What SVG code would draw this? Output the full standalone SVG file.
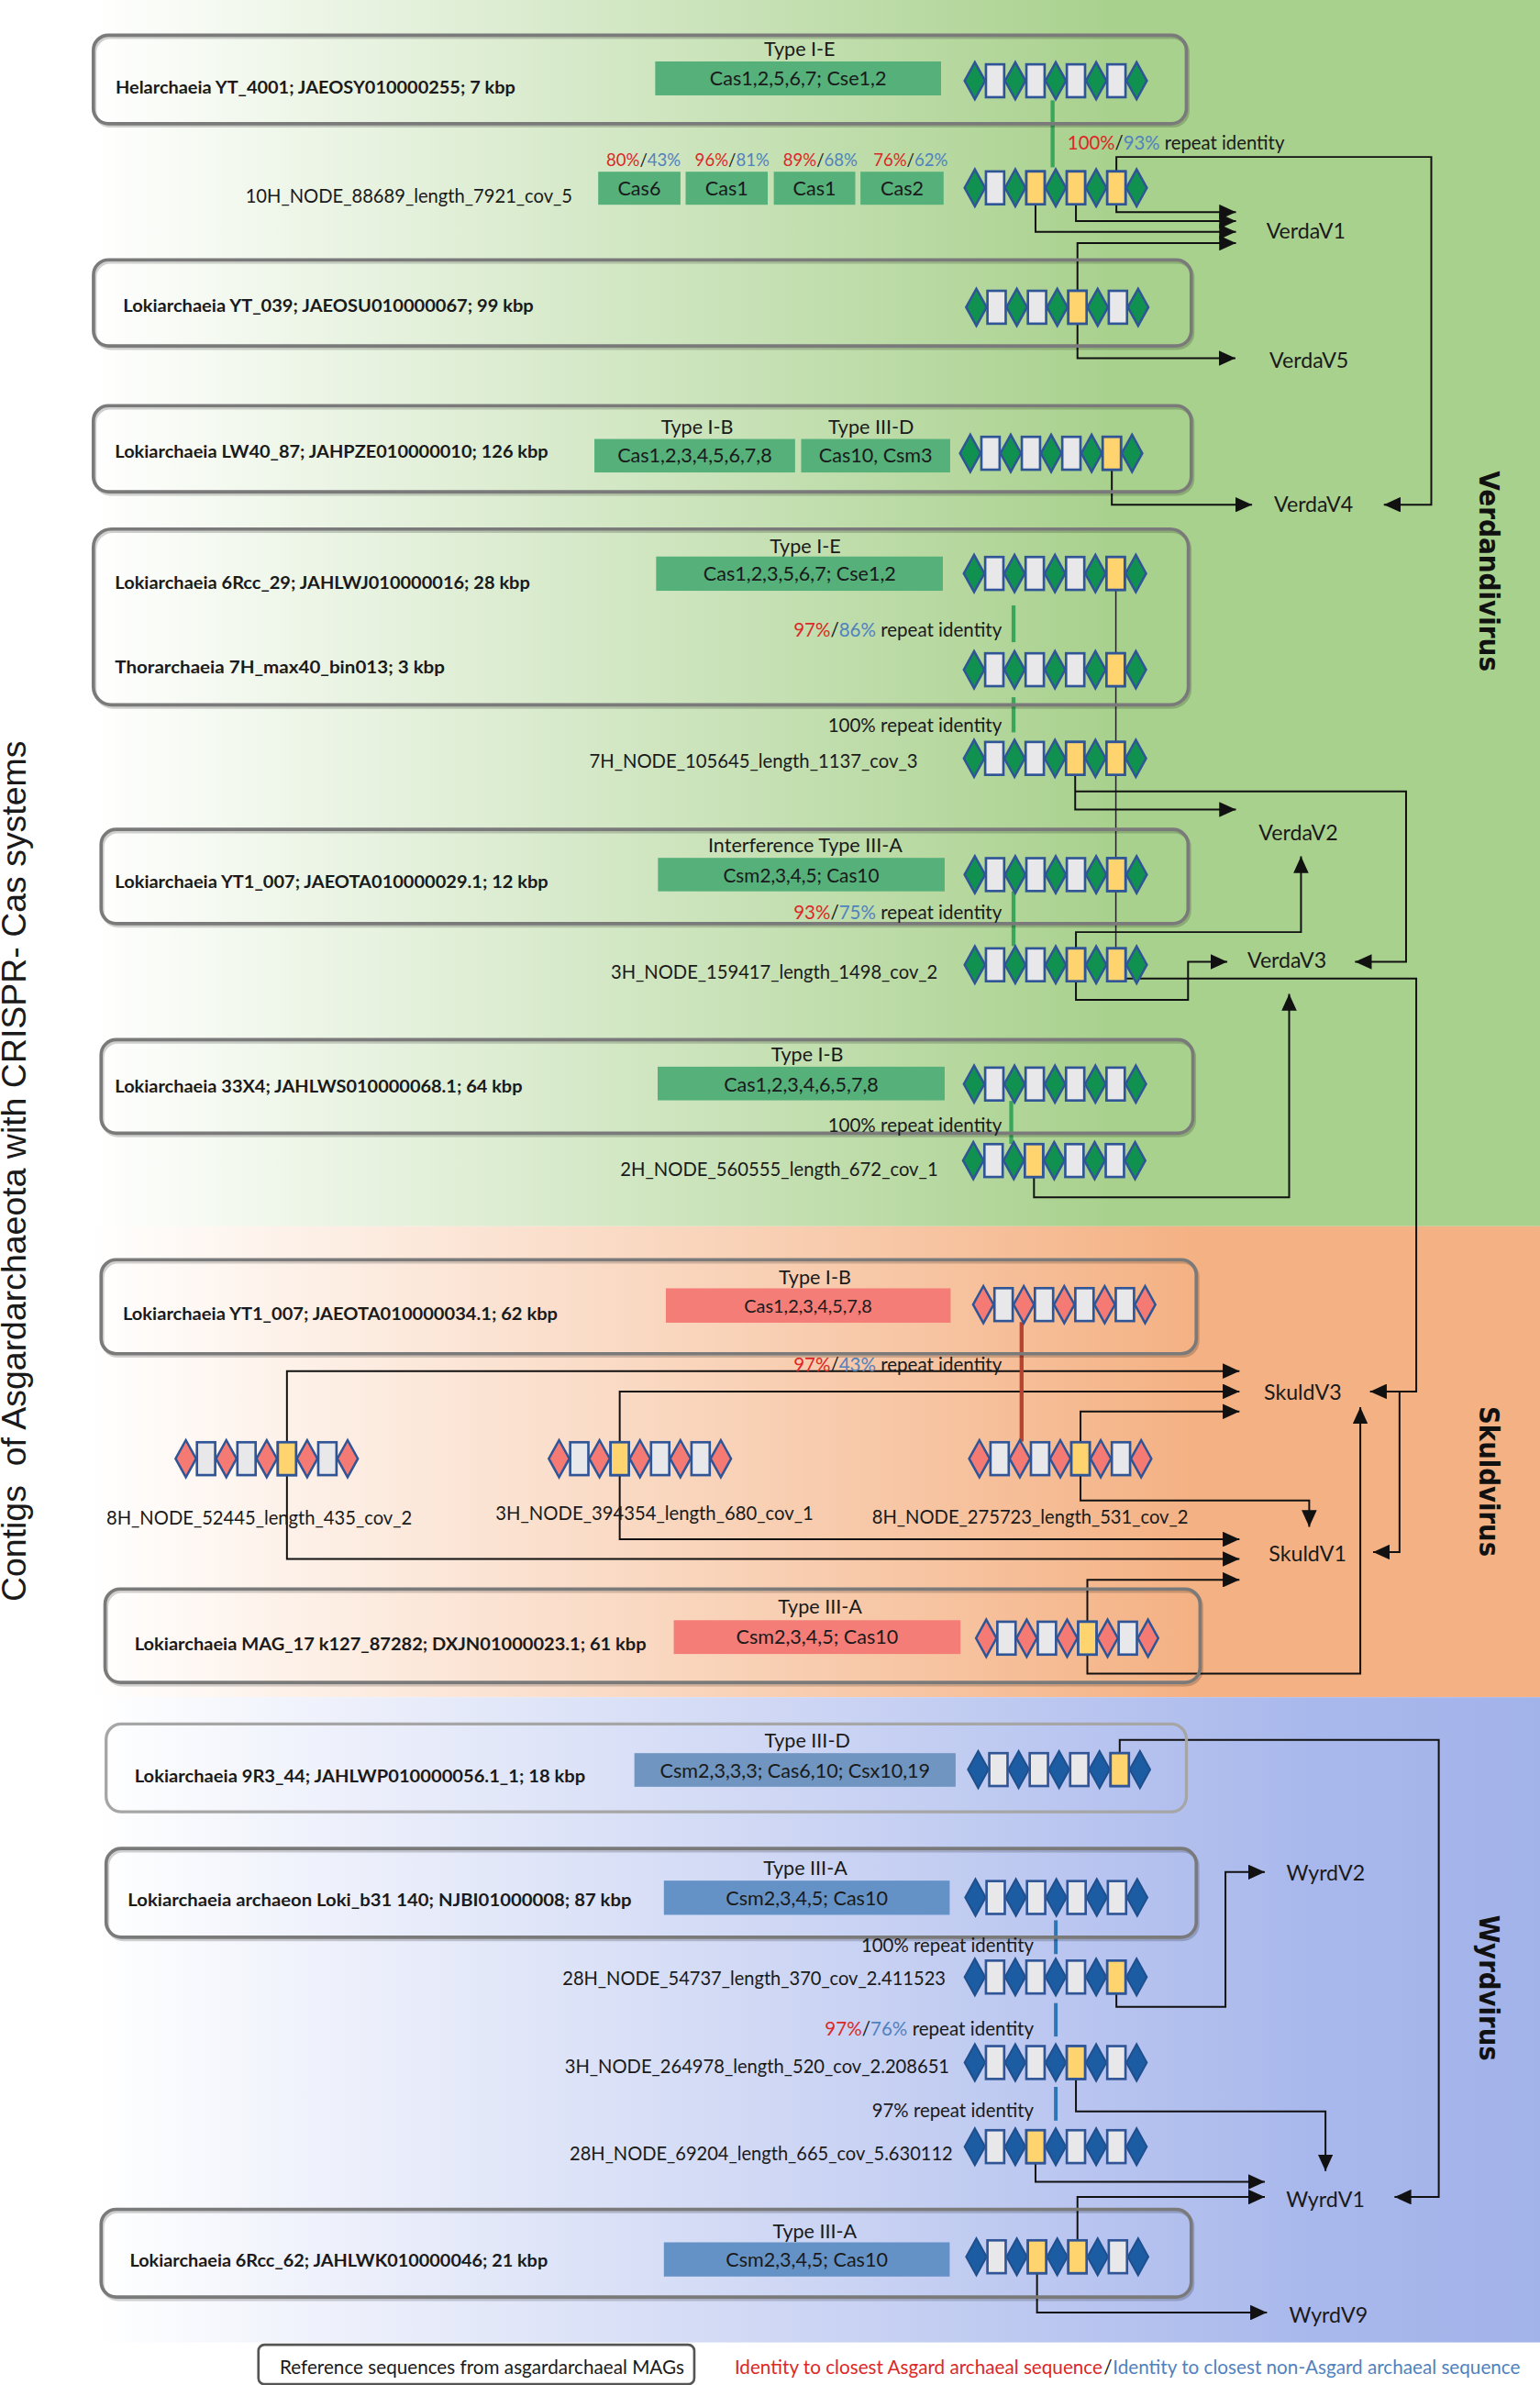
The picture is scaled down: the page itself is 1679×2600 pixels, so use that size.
<svg xmlns="http://www.w3.org/2000/svg" xmlns:xlink="http://www.w3.org/1999/xlink" width="1679" height="2600" viewBox="0 0 1679 2600">
<style>
text{font-family:Lato,"Liberation Sans",sans-serif;fill:#1a1a1a}
.lb{font-size:12px;font-weight:bold}
.nd{font-size:13px}
.ty{font-size:13px;text-anchor:middle}
.cs{font-size:13px;text-anchor:middle}
.vl{font-size:14px}
.ri{font-size:12.5px}
.pc{font-size:12px;text-anchor:middle}
.rd{fill:#dc2828}
.bl{fill:#5082be}
.box{fill:none;stroke:#7a7a7a;stroke-width:2.2}
.box2{fill:none;stroke:#a6a6a6;stroke-width:2}
.sh{fill:none;stroke:#000;stroke-opacity:0.18;stroke-width:2.2}
.cg{fill:#55b07a}
.cr{fill:#f47d78}
.cb{fill:#6592c6}
.cb2{fill:#6f95c0}
.g{fill:#119150;stroke:#2f5597;stroke-width:1.5}
.s{fill:#f47a73;stroke:#2f5597;stroke-width:1.5}
.b{fill:#1c5ca3;stroke:#1f4f8c;stroke-width:1.2}
.r{fill:#e8e8ea;stroke:#2f5597;stroke-width:1.6}
.ry{fill:#ffd46f;stroke:#2f5597;stroke-width:1.6}
.lna{fill:none;stroke:#111;stroke-width:1.2;marker-end:url(#ah)}
.thin{fill:none;stroke:#222;stroke-width:0.9}
.gl{stroke:#3aa65a;stroke-width:2.6}
.rl{stroke:#b5432f;stroke-width:2.6}
.bll{stroke:#2e75b6;stroke-width:2.4}
.big{font-family:"DejaVu Sans",sans-serif;font-weight:bold;font-size:18px;text-anchor:middle;fill:#111}
</style>
<defs>
<linearGradient id="gG" x1="0" y1="0" x2="1" y2="0"><stop offset="0" stop-color="#ffffff"/><stop offset="0.06" stop-color="#ffffff"/><stop offset="0.72" stop-color="#a9d18e"/><stop offset="1" stop-color="#a9d18e"/></linearGradient>
<linearGradient id="gO" x1="0" y1="0" x2="1" y2="0"><stop offset="0" stop-color="#ffffff"/><stop offset="0.06" stop-color="#ffffff"/><stop offset="0.78" stop-color="#f4b183"/><stop offset="1" stop-color="#f4b183"/></linearGradient>
<linearGradient id="gB" x1="0" y1="0" x2="1" y2="0"><stop offset="0" stop-color="#ffffff"/><stop offset="0.06" stop-color="#ffffff"/><stop offset="0.85" stop-color="#a9b8ec"/><stop offset="1" stop-color="#a2b3ea"/></linearGradient>
<marker id="ah" markerUnits="userSpaceOnUse" markerWidth="12" markerHeight="10" refX="11" refY="5" orient="auto"><path d="M0,0 L11,5 L0,10 z" fill="#111"/></marker>
<g id="arr">
<polygon points="0.5,0 7.25,-12.2 14,0 7.25,12.2"/>
<polygon points="27.1,0 33.85,-12.2 40.6,0 33.85,12.2"/>
<polygon points="53.7,0 60.45,-12.2 67.2,0 60.45,12.2"/>
<polygon points="80.3,0 87.05,-12.2 93.8,0 87.05,12.2"/>
<polygon points="106.9,0 113.65,-12.2 120.4,0 113.65,12.2"/>
<rect class="r" x="14.55" y="-10.8" width="12" height="21.6"/>
<rect class="r" x="41.15" y="-10.8" width="12" height="21.6"/>
<rect class="r" x="67.75" y="-10.8" width="12" height="21.6"/>
<rect class="r" x="94.35" y="-10.8" width="12" height="21.6"/>
</g>
<rect id="ry" class="ry" x="-6" y="-10.8" width="12" height="21.6"/>
</defs>
<g transform="scale(1.65745,1.65816)">
<g id="background">
<rect x="0" y="0" width="1013" height="1568" fill="#ffffff"/>
<rect x="0" y="0" width="1013" height="806.2" fill="url(#gG)"/>
<rect x="0" y="806.2" width="1013" height="309.6" fill="url(#gO)"/>
<rect x="0" y="1115.8" width="1013" height="424.2" fill="url(#gB)"/>
</g>
<text id="title" xml:space="preserve" transform="translate(17,770) rotate(-90)" text-anchor="middle" style="font-family:'Liberation Sans',Arial,sans-serif;font-size:22px" textLength="566" lengthAdjust="spacingAndGlyphs">Contigs  of Asgardarchaeota with CRISPR- Cas systems</text>
<text id="lab-verd" class="big" transform="translate(973,375.5) rotate(90)" textLength="132" lengthAdjust="spacingAndGlyphs">Verdandivirus</text>
<text id="lab-skuld" class="big" transform="translate(973,974) rotate(90)" textLength="99" lengthAdjust="spacingAndGlyphs">Skuldvirus</text>
<text id="lab-wyrd" class="big" transform="translate(973,1307) rotate(90)" textLength="96" lengthAdjust="spacingAndGlyphs">Wyrdvirus</text>

<g id="connectors">
<path class="lna" d="M734.35,112.7 V103.2 H941.5 V331.8 H910.3"/>
<path class="lna" d="M734.35,134.3 V139.4 H813"/>
<path class="lna" d="M707.75,134.3 V145.4 H813"/>
<path class="lna" d="M681.15,134.3 V152.4 H813"/>
<path class="lna" d="M708.75,191.2 V159.8 H813"/>
<path class="lna" d="M708.75,212.8 V235.5 H812.7"/>
<path class="lna" d="M731.35,308.8 V331.8 H823.6"/>
<path class="thin" d="M734,387.8 V623.5"/>
<path class="lna" d="M707.25,509.4 V532.2 H813"/>
<path class="lna" d="M707.25,520.3 H924.9 V632.3 H891.3"/>
<path class="lna" d="M707.75,623.5 V612.8 H855.8 V563"/>
<path class="lna" d="M707.75,645.1 V657.4 H781.5 V632.3 H807.3"/>
<path class="lna" d="M734.35,643.3 H931.6 V914.8 H901.2"/>
<path class="lna" d="M920.6,914.8 V1020.4 H903.2"/>
<path class="lna" d="M680.15,773.8 V787.1 H848 V653.4"/>
<path class="lna" d="M188.75,959 V901.4 H815.3"/>
<path class="lna" d="M188.75,959 V1024.9 H815.3"/>
<path class="lna" d="M407.65,959 V914.8 H815.3"/>
<path class="lna" d="M407.65,959 V1012 H815.3"/>
<path class="lna" d="M710.75,959 V928 H815.3"/>
<path class="lna" d="M710.75,959 V986.5 H861.2 V1003.8"/>
<path class="lna" d="M715.25,1077 V1038.6 H815.3"/>
<path class="lna" d="M715.25,1077 V1100.3 H894.8 V925.1"/>
<path class="lna" d="M736.55,1152.6 V1143.9 H946.4 V1444.4 H917.3"/>
<path class="lna" d="M734.35,1310.6 V1319.4 H806.1 V1230.8 H832"/>
<path class="lna" d="M707.75,1366.8 V1388.2 H871.9 V1427.4"/>
<path class="lna" d="M681.15,1422.1 V1434.4 H832"/>
<path class="lna" d="M708.75,1472.9 V1444.4 H832"/>
<path class="lna" d="M682.15,1494.5 V1520.4 H833.4"/>
<line class="gl" x1="692.4" y1="66" x2="692.4" y2="110"/>
<line class="gl" x1="666.7" y1="398" x2="666.7" y2="422.2"/>
<line class="gl" x1="666.7" y1="458.4" x2="666.7" y2="481.5"/>
<line class="gl" x1="666.7" y1="586" x2="666.7" y2="622"/>
<line class="gl" x1="665.2" y1="723.8" x2="665.2" y2="752"/>
<line class="rl" x1="672" y1="869.2" x2="672" y2="947.8"/>
<line class="bll" x1="694.5" y1="1262.5" x2="694.5" y2="1284.7"/>
<line class="bll" x1="694.5" y1="1316.9" x2="694.5" y2="1338.9"/>
<line class="bll" x1="694.5" y1="1372" x2="694.5" y2="1394.2"/>
</g>

<g id="n-helarchaeia">
<rect class="sh" x="62.4" y="24.6" width="719" height="58.2" rx="10"/>
<rect class="box" x="61.4" y="23.1" width="719" height="58.2" rx="10"/>
<text class="lb" x="76" y="61.5" textLength="263" lengthAdjust="spacingAndGlyphs">Helarchaeia YT_4001; JAEOSY010000255; 7 kbp</text>
<text class="ty" x="526" y="37">Type I-E</text>
<rect class="cg" x="431" y="40.4" width="188" height="22.3"/>
<text class="cs" x="525" y="56">Cas1,2,5,6,7; Cse1,2</text>
<use href="#arr" class="g" x="634" y="53.1"/>
</g>

<g id="n-10H_NODE_88689">
<text class="nd" x="161.5" y="133.5" textLength="215" lengthAdjust="spacingAndGlyphs">10H_NODE_88689_length_7921_cov_5</text>
<text class="pc" x="423.3" y="109" textLength="49" lengthAdjust="spacingAndGlyphs"><tspan class="rd">80%</tspan>/<tspan class="bl">43%</tspan></text>
<text class="pc" x="481.6" y="109" textLength="49" lengthAdjust="spacingAndGlyphs"><tspan class="rd">96%</tspan>/<tspan class="bl">81%</tspan></text>
<text class="pc" x="539.6" y="109" textLength="49" lengthAdjust="spacingAndGlyphs"><tspan class="rd">89%</tspan>/<tspan class="bl">68%</tspan></text>
<text class="pc" x="599" y="109" textLength="49" lengthAdjust="spacingAndGlyphs"><tspan class="rd">76%</tspan>/<tspan class="bl">62%</tspan></text>
<rect class="cg" x="393.5" y="112.9" width="54.1" height="21.7"/>
<rect class="cg" x="451" y="112.9" width="54" height="21.7"/>
<rect class="cg" x="509" y="112.9" width="53.6" height="21.7"/>
<rect class="cg" x="566" y="112.9" width="54.7" height="21.7"/>
<text class="cs" x="420.5" y="128.5">Cas6</text>
<text class="cs" x="478" y="128.5">Cas1</text>
<text class="cs" x="535.8" y="128.5">Cas1</text>
<text class="cs" x="593.4" y="128.5">Cas2</text>
<use href="#arr" class="g" x="634" y="123.5"/>
<use href="#ry" x="681.15" y="123.5"/>
<use href="#ry" x="707.75" y="123.5"/>
<use href="#ry" x="734.35" y="123.5"/>
<text class="ri" x="702.2" y="98.5" textLength="142.7" lengthAdjust="spacingAndGlyphs"><tspan class="rd">100%</tspan>/<tspan class="bl">93%</tspan> repeat identity</text>
</g>

<g id="n-YT_039">
<rect class="sh" x="62.5" y="172.3" width="722.1" height="56.6" rx="10"/>
<rect class="box" x="61.5" y="170.8" width="722.1" height="56.6" rx="10"/>
<text class="lb" x="81" y="205" textLength="270" lengthAdjust="spacingAndGlyphs">Lokiarchaeia YT_039; JAEOSU010000067; 99 kbp</text>
<use href="#arr" class="g" x="635" y="202"/>
<use href="#ry" x="708.75" y="202"/>
</g>

<g id="n-LW40_87">
<rect class="sh" x="62.4" y="268.2" width="722.2" height="56.6" rx="10"/>
<rect class="box" x="61.4" y="266.7" width="722.2" height="56.6" rx="10"/>
<text class="lb" x="75.6" y="301" textLength="285" lengthAdjust="spacingAndGlyphs">Lokiarchaeia LW40_87; JAHPZE010000010; 126 kbp</text>
<text class="ty" x="458.6" y="285.5">Type I-B</text>
<text class="ty" x="573" y="285.5">Type III-D</text>
<rect class="cg" x="391" y="288.6" width="132" height="22"/>
<rect class="cg" x="527" y="288.6" width="98" height="22"/>
<text class="cs" x="457" y="304">Cas1,2,3,4,5,6,7,8</text>
<text class="cs" x="576" y="304">Cas10, Csm3</text>
<use href="#arr" class="g" x="631" y="298"/>
<use href="#ry" x="731.35" y="298"/>
</g>

<g id="n-6Rcc_29-Thor">
<rect class="sh" x="62.4" y="349.3" width="720.3" height="115.6" rx="12"/>
<rect class="box" x="61.4" y="347.8" width="720.3" height="115.6" rx="12"/>
<text class="lb" x="75.6" y="387" textLength="273" lengthAdjust="spacingAndGlyphs">Lokiarchaeia 6Rcc_29; JAHLWJ010000016; 28 kbp</text>
<text class="ty" x="529.7" y="363.5">Type I-E</text>
<rect class="cg" x="431.6" y="365.9" width="188.6" height="22.5"/>
<text class="cs" x="526" y="382">Cas1,2,3,5,6,7; Cse1,2</text>
<use href="#arr" class="g" x="633.5" y="377"/>
<use href="#ry" x="733.85" y="377"/>
<text class="ri" x="522" y="418.5" textLength="137" lengthAdjust="spacingAndGlyphs"><tspan class="rd">97%</tspan>/<tspan class="bl">86%</tspan> repeat identity</text>
<text class="lb" x="75.6" y="442.5" textLength="217" lengthAdjust="spacingAndGlyphs">Thorarchaeia 7H_max40_bin013; 3 kbp</text>
<use href="#arr" class="g" x="633.5" y="440.3"/>
<use href="#ry" x="733.85" y="440.3"/>
</g>

<g id="n-7H_NODE_105645">
<text class="ri" x="544.6" y="481.5" textLength="114.4" lengthAdjust="spacingAndGlyphs">100% repeat identity</text>
<text class="nd" x="387.6" y="505" textLength="216" lengthAdjust="spacingAndGlyphs">7H_NODE_105645_length_1137_cov_3</text>
<use href="#arr" class="g" x="633.5" y="498.6"/>
<use href="#ry" x="707.25" y="498.6"/>
<use href="#ry" x="733.85" y="498.6"/>
</g>

<g id="n-YT1_007-029">
<rect class="sh" x="67.5" y="546.8" width="715" height="61.9" rx="10"/>
<rect class="box" x="66.5" y="545.3" width="715" height="61.9" rx="10"/>
<text class="ty" x="529.7" y="560.5">Interference Type III-A</text>
<rect class="cg" x="432.8" y="564" width="188.6" height="22"/>
<text class="cs" x="527" y="580" style="font-size:12.5px">Csm2,3,4,5; Cas10</text>
<text class="lb" x="75.6" y="584" textLength="285" lengthAdjust="spacingAndGlyphs">Lokiarchaeia YT1_007; JAEOTA010000029.1; 12 kbp</text>
<use href="#arr" class="g" x="634" y="575"/>
<use href="#ry" x="734.35" y="575"/>
<text class="ri" x="522" y="604" textLength="137" lengthAdjust="spacingAndGlyphs"><tspan class="rd">93%</tspan>/<tspan class="bl">75%</tspan> repeat identity</text>
</g>

<g id="n-3H_NODE_159417">
<text class="nd" x="401.8" y="643.5" textLength="215" lengthAdjust="spacingAndGlyphs">3H_NODE_159417_length_1498_cov_2</text>
<use href="#arr" class="g" x="634" y="634.3"/>
<use href="#ry" x="707.75" y="634.3"/>
<use href="#ry" x="734.35" y="634.3"/>
</g>

<g id="n-33X4">
<rect class="sh" x="67.5" y="685" width="718.2" height="61.5" rx="10"/>
<rect class="box" x="66.5" y="683.5" width="718.2" height="61.5" rx="10"/>
<text class="ty" x="531" y="698">Type I-B</text>
<rect class="cg" x="432.6" y="701.3" width="188.8" height="22.1"/>
<text class="cs" x="527" y="717.5">Cas1,2,3,4,6,5,7,8</text>
<text class="lb" x="75.6" y="718.5" textLength="268" lengthAdjust="spacingAndGlyphs">Lokiarchaeia 33X4; JAHLWS010000068.1; 64 kbp</text>
<use href="#arr" class="g" x="633.5" y="712.7"/>
<text class="ri" x="544.6" y="744" textLength="114.4" lengthAdjust="spacingAndGlyphs">100% repeat identity</text>
</g>

<g id="n-2H_NODE_560555">
<text class="nd" x="408" y="773" textLength="209" lengthAdjust="spacingAndGlyphs">2H_NODE_560555_length_672_cov_1</text>
<use href="#arr" class="g" x="633" y="763"/>
<use href="#ry" x="680.15" y="763"/>
</g>

<g id="n-YT1_007-034">
<rect class="sh" x="67.5" y="829.7" width="720.4" height="61.8" rx="10"/>
<rect class="box" x="66.5" y="828.2" width="720.4" height="61.8" rx="10"/>
<text class="ty" x="536" y="844.5">Type I-B</text>
<rect class="cr" x="438" y="847" width="187.3" height="22.6"/>
<text class="cs" x="531.6" y="863" style="font-size:12px">Cas1,2,3,4,5,7,8</text>
<text class="lb" x="80.8" y="868" textLength="286" lengthAdjust="spacingAndGlyphs">Lokiarchaeia YT1_007; JAEOTA010000034.1; 62 kbp</text>
<use href="#arr" class="s" x="639.6" y="857.7"/>
<text class="ri" x="522" y="901.5" textLength="137" lengthAdjust="spacingAndGlyphs"><tspan class="rd">97%</tspan>/<tspan class="bl">43%</tspan> repeat identity</text>
</g>

<g id="n-8H_NODE_52445">
<use href="#arr" class="s" x="115" y="959"/>
<use href="#ry" x="188.75" y="959"/>
<text class="nd" x="70" y="1002.5" textLength="201" lengthAdjust="spacingAndGlyphs">8H_NODE_52445_length_435_cov_2</text>
</g>
<g id="n-3H_NODE_394354">
<use href="#arr" class="s" x="360.5" y="959"/>
<use href="#ry" x="407.65" y="959"/>
<text class="nd" x="326" y="999.5" textLength="209" lengthAdjust="spacingAndGlyphs">3H_NODE_394354_length_680_cov_1</text>
</g>
<g id="n-8H_NODE_275723">
<use href="#arr" class="s" x="637" y="959"/>
<use href="#ry" x="710.75" y="959"/>
<text class="nd" x="573.6" y="1002" textLength="208" lengthAdjust="spacingAndGlyphs">8H_NODE_275723_length_531_cov_2</text>
</g>

<g id="n-MAG_17">
<rect class="sh" x="70.1" y="1046.2" width="720.3" height="61.4" rx="10"/>
<rect class="box" x="69.1" y="1044.7" width="720.3" height="61.4" rx="10"/>
<text class="ty" x="539.4" y="1061">Type III-A</text>
<rect class="cr" x="443.2" y="1065.2" width="188.6" height="22.2"/>
<text class="cs" x="537.5" y="1081">Csm2,3,4,5; Cas10</text>
<text class="lb" x="88.5" y="1085" textLength="336.6" lengthAdjust="spacingAndGlyphs">Lokiarchaeia MAG_17 k127_87282; DXJN01000023.1; 61 kbp</text>
<use href="#arr" class="s" x="641.5" y="1077"/>
<use href="#ry" x="715.25" y="1077"/>
</g>

<g id="n-9R3_44">
<rect class="box2" x="69.8" y="1133.4" width="710.6" height="57.8" rx="10"/>
<text class="ty" x="531" y="1149">Type III-D</text>
<rect class="cb2" x="417.3" y="1152.6" width="211.3" height="22.1"/>
<text class="cs" x="523" y="1168.5">Csm2,3,3,3; Cas6,10; Csx10,19</text>
<text class="lb" x="88.5" y="1172" textLength="296.5" lengthAdjust="spacingAndGlyphs">Lokiarchaeia 9R3_44; JAHLWP010000056.1_1; 18 kbp</text>
<use href="#arr" class="b" x="636.2" y="1163.4"/>
<use href="#ry" x="736.55" y="1163.4"/>
</g>

<g id="n-Loki_b31">
<rect class="sh" x="70.8" y="1216.8" width="717.1" height="58.3" rx="10"/>
<rect class="box" x="69.8" y="1215.3" width="717.1" height="58.3" rx="10"/>
<text class="ty" x="529.7" y="1232.5">Type III-A</text>
<rect class="cb" x="436.7" y="1236.4" width="188" height="22.5"/>
<text class="cs" x="530.7" y="1252.5">Csm2,3,4,5; Cas10</text>
<text class="lb" x="84" y="1253.5" textLength="331.4" lengthAdjust="spacingAndGlyphs">Lokiarchaeia archaeon Loki_b31 140; NJBI01000008; 87 kbp</text>
<use href="#arr" class="b" x="634.4" y="1247.5"/>
</g>

<g id="n-28H_NODE_54737">
<text class="ri" x="566.5" y="1283.5" textLength="113.5" lengthAdjust="spacingAndGlyphs">100% repeat identity</text>
<text class="nd" x="370" y="1305" textLength="252" lengthAdjust="spacingAndGlyphs">28H_NODE_54737_length_370_cov_2.411523</text>
<use href="#arr" class="b" x="634" y="1299.8"/>
<use href="#ry" x="734.35" y="1299.8"/>
</g>

<g id="n-3H_NODE_264978">
<text class="ri" x="542.6" y="1338" textLength="137.4" lengthAdjust="spacingAndGlyphs"><tspan class="rd">97%</tspan>/<tspan class="bl">76%</tspan> repeat identity</text>
<text class="nd" x="371.5" y="1363" textLength="253" lengthAdjust="spacingAndGlyphs">3H_NODE_264978_length_520_cov_2.208651</text>
<use href="#arr" class="b" x="634" y="1356"/>
<use href="#ry" x="707.75" y="1356"/>
</g>

<g id="n-28H_NODE_69204">
<text class="ri" x="573.6" y="1392" textLength="106.4" lengthAdjust="spacingAndGlyphs">97% repeat identity</text>
<text class="nd" x="374.7" y="1420.5" textLength="252" lengthAdjust="spacingAndGlyphs">28H_NODE_69204_length_665_cov_5.630112</text>
<use href="#arr" class="b" x="634" y="1411.3"/>
<use href="#ry" x="681.15" y="1411.3"/>
</g>

<g id="n-6Rcc_62">
<rect class="sh" x="67.5" y="1454" width="717.1" height="57.7" rx="10"/>
<rect class="box" x="66.5" y="1452.5" width="717.1" height="57.7" rx="10"/>
<text class="ty" x="536" y="1471.5">Type III-A</text>
<rect class="cb" x="436.7" y="1474.2" width="188" height="22.5"/>
<text class="cs" x="530.7" y="1490.5">Csm2,3,4,5; Cas10</text>
<text class="lb" x="85.3" y="1490.5" textLength="275" lengthAdjust="spacingAndGlyphs">Lokiarchaeia 6Rcc_62; JAHLWK010000046; 21 kbp</text>
<use href="#arr" class="b" x="635" y="1483.7"/>
<use href="#ry" x="682.15" y="1483.7"/>
<use href="#ry" x="708.75" y="1483.7"/>
</g>

<g id="viruses">
<text id="VerdaV1" class="vl" x="833" y="157">VerdaV1</text>
<text id="VerdaV5" class="vl" x="835" y="242">VerdaV5</text>
<text id="VerdaV4" class="vl" x="838" y="336.5">VerdaV4</text>
<text id="VerdaV2" class="vl" x="828" y="552.5">VerdaV2</text>
<text id="VerdaV3" class="vl" x="820.5" y="636">VerdaV3</text>
<text id="SkuldV3" class="vl" x="831.4" y="920.5">SkuldV3</text>
<text id="SkuldV1" class="vl" x="834.6" y="1026.5">SkuldV1</text>
<text id="WyrdV2" class="vl" x="846.2" y="1236.5">WyrdV2</text>
<text id="WyrdV1" class="vl" x="846" y="1451">WyrdV1</text>
<text id="WyrdV9" class="vl" x="848" y="1527">WyrdV9</text>
</g>

<g id="legend">
<rect x="170" y="1541.5" width="286.7" height="26" rx="4" fill="#ffffff" stroke="#555" stroke-width="1.6"/>
<text class="ri" x="184" y="1561" textLength="266" lengthAdjust="spacingAndGlyphs">Reference sequences from asgardarchaeal MAGs</text>
<text class="ri rd" x="483.2" y="1561" textLength="242" lengthAdjust="spacingAndGlyphs">Identity to closest Asgard archaeal sequence</text>
<text class="ri" x="726" y="1561">/</text>
<text class="ri bl" x="732" y="1561" textLength="268" lengthAdjust="spacingAndGlyphs">Identity to closest non-Asgard archaeal sequence</text>
</g>
</g>
</svg>
